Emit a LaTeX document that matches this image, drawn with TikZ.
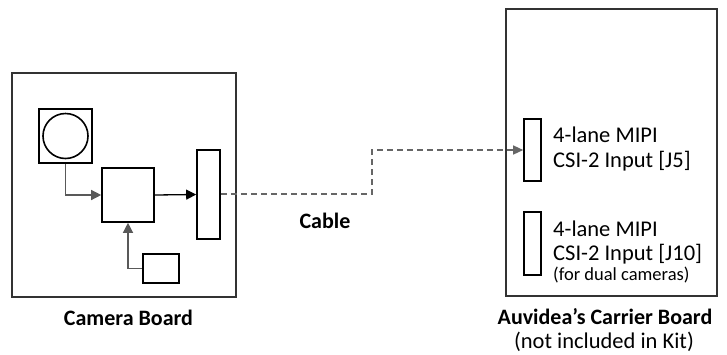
\documentclass[tikz,border=0pt]{standalone}
\usepackage{fontspec}
\setmainfont{Carlito}
\usetikzlibrary{arrows.meta}
\begin{document}
\begin{tikzpicture}[x=1pt,y=-1pt,
  box/.style={draw=black,line width=1.6pt},
  bigbox/.style={draw=black!80,line width=1.8pt},
  conn/.style={line width=1.3pt,draw=black!65,-{Triangle[length=10pt,width=10pt]}},
  blackconn/.style={line width=1.3pt,draw=black,-{Triangle[length=10pt,width=10pt]}},
  cable/.style={line width=1.3pt,draw=black!60,dash pattern=on 6pt off 4pt,-{Triangle[length=10pt,width=9pt]}},
  lbl/.style={font=\fontsize{22.5}{25}\selectfont,inner sep=0pt,anchor=base west},
  small/.style={font=\fontsize{18.5}{20}\selectfont,inner sep=0pt,anchor=base west},
  title/.style={font=\fontsize{22}{25}\selectfont\bfseries,inner sep=0pt,anchor=base}
]
\useasboundingbox (0,0) rectangle (727,354);
% camera board
\draw[bigbox] (12,73) rectangle (236,297);
\node[box,minimum width=53pt,minimum height=54pt,inner sep=0pt] (cam) at (65.5,136) {};
\draw[line width=1.6pt] (cam.center) circle (22.5pt);
\node[box,minimum width=52pt,minimum height=54pt,inner sep=0pt] (proc) at (128,195) {};
\node[box,minimum width=23pt,minimum height=89pt,inner sep=0pt] (out) at (208.5,194.5) {};
\node[box,minimum width=36pt,minimum height=29pt,inner sep=0pt] (pwr) at (161,268.5) {};
\draw[conn] (cam.south) |- (proc.west);
\draw[conn] (pwr.west) -| (proc.south);
\draw[blackconn] (proc.east) -- (out.west);
\node[title] (cbl) at (128.5,325) {Camera Board};
% carrier board
\draw[bigbox] (506,9) rectangle (717,296);
\node[box,minimum width=17pt,minimum height=62pt,inner sep=0pt] (j5) at (532.5,150) {};
\node[box,minimum width=17pt,minimum height=63pt,inner sep=0pt] (j10) at (532.5,243.5) {};
\node[lbl] (t1) at (553,142) {4-lane MIPI};
\node[lbl] (t2) at (553,167) {CSI-2 Input [J5]};
\node[lbl] (t3) at (553,236) {4-lane MIPI};
\node[lbl] (t4) at (553,260) {CSI-2 Input [J10]};
\node[small] (t5) at (553,280) {(for dual cameras)};
\node[title] (crl) at (605,324) {Auvidea’s Carrier Board};
\node[font=\fontsize{22.5}{25}\selectfont,inner sep=0pt,anchor=base] (crl2) at (604,348) {(not included in Kit)};
% cable
\coordinate (bend) at (372,194);
\draw[cable] (out.east |- 0,194) -- (bend) |- (j5.west);
\node[title] (cab) at (325,228) {Cable};
\end{tikzpicture}
\end{document}
